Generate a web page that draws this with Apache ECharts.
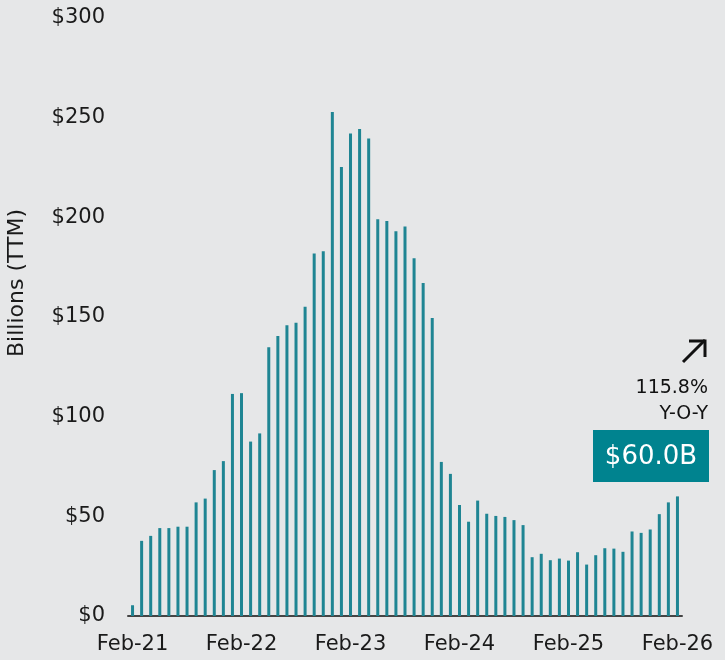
<!DOCTYPE html>
<html><head><meta charset="utf-8">
<script src="https://cdn.jsdelivr.net/npm/echarts@6/dist/echarts.min.js"></script>
<style>html,body{margin:0;padding:0;background:#e6e7e8}#c{width:725px;height:660px}</style>
</head><body><div id="c"></div>
<script>
const months = (function(){
  const m=['Jan','Feb','Mar','Apr','May','Jun','Jul','Aug','Sep','Oct','Nov','Dec'];
  const out=[]; let y=21, i=1;
  for(let k=0;k<61;k++){ out.push(m[i]+'-'+y); i++; if(i===12){i=0;y++;} }
  return out;
})();
const values = [5.4,37.7,40.2,44.1,44.1,44.8,44.8,57.0,58.9,73.2,77.7,111.4,
  111.8,87.5,91.6,134.8,140.5,145.9,147.1,155.2,181.8,183.0,252.9,225.2,
  242.0,244.3,239.5,199.1,198.2,193.0,195.4,179.5,167.1,149.5,77.3,71.3,
  55.7,47.3,57.9,51.3,50.2,49.7,48.1,45.6,29.5,31.2,28.0,28.8,
  27.8,32.0,25.8,30.5,34.0,33.8,32.2,42.4,41.7,43.4,51.1,57.0,
  60.0];
const yTicks = [0,50,100,150,200,250,300];
const tickLabels = ['Feb-21','Feb-22','Feb-23','Feb-24','Feb-25','Feb-26'];
const last = values[values.length-1];
const yoy = (last/values[values.length-13]-1)*100;
const FONT = '"DejaVu Sans", sans-serif';
const chart = echarts.init(document.getElementById('c'));
chart.setOption({
  backgroundColor:'#e6e7e8',
  animation:false,
  grid:{left:128,right:43,top:18,bottom:44},
  xAxis:{type:'category',data:months,
    axisLine:{lineStyle:{color:'#444',width:2}},
    axisTick:{show:false},
    axisLabel:{interval:0,color:'#1a1a1a',fontSize:21,fontFamily:FONT,margin:18,
      formatter:v=>tickLabels.indexOf(v)>=0?v:''}},
  yAxis:{type:'value',min:yTicks[0],max:yTicks[yTicks.length-1],interval:50,
    axisLine:{show:false},axisTick:{show:false},splitLine:{show:false},
    axisLabel:{color:'#1a1a1a',fontSize:21,fontFamily:FONT,margin:23,formatter:v=>'$'+v}},
  series:[{type:'bar',data:values,barWidth:3,itemStyle:{color:'#1f8593'}}],
  graphic:[
    {type:'text',x:17,y:283,rotation:Math.PI/2,style:{text:'Billions (TTM)',fill:'#1a1a1a',font:'22px '+FONT,textAlign:'center',textVerticalAlign:'middle'}},
    {type:'polyline',shape:{points:[[683,362],[705,340]]},style:{stroke:'#111',lineWidth:3,fill:null}},
    {type:'polyline',shape:{points:[[689,341],[705,341],[705,357]]},style:{stroke:'#111',lineWidth:3,fill:null}},
    {type:'text',x:708,y:388,style:{text:yoy.toFixed(1)+'%',fill:'#111',font:'19px '+FONT,textAlign:'right',textVerticalAlign:'middle'}},
    {type:'text',x:708,y:414,style:{text:'Y-O-Y',fill:'#111',font:'19px '+FONT,textAlign:'right',textVerticalAlign:'middle'}},
    {type:'rect',shape:{x:593,y:430,width:116,height:52},style:{fill:'#00838f'}},
    {type:'text',x:651,y:457,style:{text:'$'+last.toFixed(1)+'B',fill:'#fff',font:'26px '+FONT,textAlign:'center',textVerticalAlign:'middle'}}
  ]
});
</script></body></html>
